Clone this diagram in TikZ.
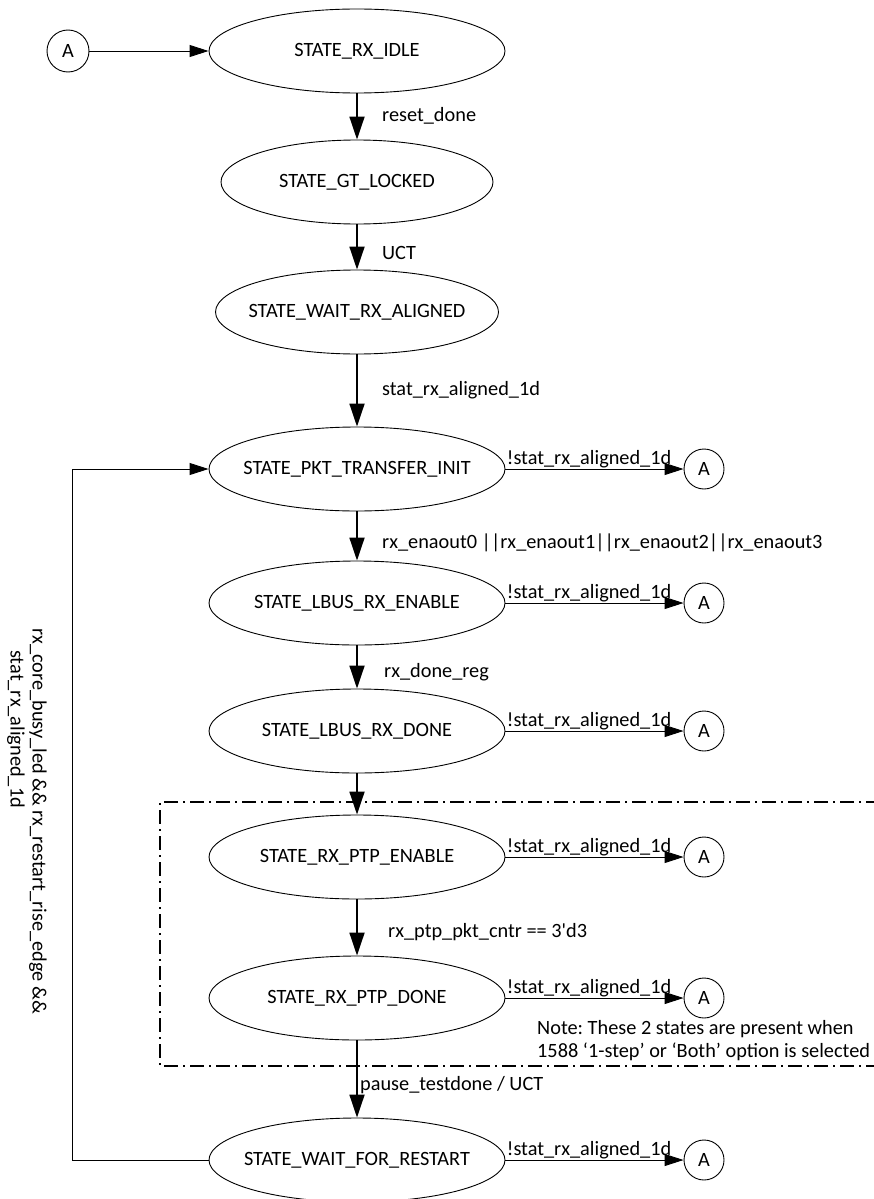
\documentclass[tikz,border=0pt]{standalone}
\usepackage{fontspec}
\setmainfont{Carlito}
\usetikzlibrary{arrows.meta,shapes.geometric}
\newcommand\zbox[1]{\makebox[0pt]{#1}}
\frenchspacing
\begin{document}
\begin{tikzpicture}[x=1pt,y=-1pt,
 every node/.style={font=\fontsize{20.3}{23}\selectfont},
 st/.style={draw,ellipse,line width=0.9pt,minimum width=296pt,minimum height=84pt,inner sep=0pt},
 conn/.style={draw,circle,line width=0.9pt,minimum size=40pt,inner sep=0pt},
 mainarr/.style={line width=1.8pt,-{Triangle[width=15pt,length=23pt]}},
 sidearr/.style={line width=0.9pt,-{Triangle[width=12pt,length=19pt]}},
 lbl/.style={anchor=west,inner sep=0pt},
 sidelbl/.style={anchor=south west,inner sep=1pt},
 ddash/.style={line width=1.3pt,dash pattern=on 14pt off 5pt on 2pt off 5pt},
 ]
\useasboundingbox (0,0) rectangle (874,1199);

% states
\node[st] (idle) at (357,51) {\zbox{STATE\_RX\_IDLE}};
\node[st,minimum width=272pt] (gt) at (357,182) {\zbox{STATE\_GT\_LOCKED}};
\node[st,minimum width=283pt] (wra) at (357,312) {\zbox{STATE\_WAIT\_RX\_ALIGNED}};
\node[st] (pti) at (357,469) {\zbox{STATE\_PKT\_TRANSFER\_INIT}};
\node[st] (lre) at (357,603) {\zbox{STATE\_LBUS\_RX\_ENABLE}};
\node[st] (lrd) at (357,731) {\zbox{STATE\_LBUS\_RX\_DONE}};
\node[st] (ppe) at (357,857) {\zbox{STATE\_RX\_PTP\_ENABLE}};
\node[st] (ppd) at (357,998) {\zbox{STATE\_RX\_PTP\_DONE}};
\node[st] (wfr) at (357,1160) {\zbox{STATE\_WAIT\_FOR\_RESTART}};

% connectors A
\node[conn,minimum size=42pt] (a0) at (68,51) {A};
\node[conn] (a1) at (704,469) {A};
\node[conn] (a2) at (704,603) {A};
\node[conn] (a3) at (704,731) {A};
\node[conn] (a4) at (704,857) {A};
\node[conn] (a5) at (704,998) {A};
\node[conn] (a6) at (704,1160) {A};

% dash-dot region
\coordinate (bxtr) at (880,802);
\coordinate (bxtl) at (160,802);
\coordinate (bxbl) at (160,1066);
\coordinate (bxbr) at (880,1066);
\draw[ddash] (bxtr) -- (bxtl) -- (bxbl) -- (bxbr);

% main flow
\draw[mainarr] (idle) -- (gt);
\draw[mainarr] (gt) -- (wra);
\draw[mainarr] (wra) -- (pti);
\draw[mainarr] (pti) -- (lre);
\draw[mainarr] (lre) -- (lrd);
\draw[mainarr] (lrd) -- (ppe);
\draw[mainarr] (ppe) -- (ppd);
\draw[mainarr] (ppd) -- (wfr);

\node[lbl] (l1) at (382,116) {reset\_done};
\node[lbl] (l2) at (382,253) {UCT};
\node[lbl] (l3) at (382,390) {stat\_rx\_aligned\_1d};
\node[lbl] (l4) at (382,543) {rx\_enaout0 ||rx\_enaout1||rx\_enaout2||rx\_enaout3};
\node[lbl] (l5) at (384,672) {rx\_done\_reg};
\node[lbl] (l6) at (388,932) {rx\_ptp\_pkt\_cntr == 3\textquotesingle d3};
\node[lbl] (l7) at (360,1085) {pause\_testdone / UCT};

% entry
\draw[sidearr] (a0) -- (idle);

% exits to A
\draw[sidearr] (pti) -- node[sidelbl,at start] {!stat\_rx\_aligned\_1d} (a1);
\draw[sidearr] (lre) -- node[sidelbl,at start] {!stat\_rx\_aligned\_1d} (a2);
\draw[sidearr] (lrd) -- node[sidelbl,at start] {!stat\_rx\_aligned\_1d} (a3);
\draw[sidearr] (ppe) -- node[sidelbl,at start] {!stat\_rx\_aligned\_1d} (a4);
\draw[sidearr] (ppd) -- node[sidelbl,at start] {!stat\_rx\_aligned\_1d} (a5);
\draw[sidearr] (wfr) -- node[sidelbl,at start] {!stat\_rx\_aligned\_1d} (a6);

% loop back
\coordinate (lpb) at (72,1160);
\coordinate (lpt) at (72,469);
\draw[sidearr] (wfr.west) -- (lpb) -- (lpt) -- (pti.west);
\node[rotate=-90,anchor=west,inner sep=0pt] (lp1) at (38,628) {rx\_core\_busy\_led \&\& rx\_restart\_rise\_edge \&\&};
\node[rotate=-90,anchor=west,inner sep=0pt] (lp2) at (16,650) {stat\_rx\_aligned\_1d};

% note
\node[anchor=north west,inner sep=0pt,align=left] (note) at (537,1020) {Note: These 2 states are present when\\1588 ‘1-step’ or ‘Both’ option is selected};
\end{tikzpicture}
\end{document}
